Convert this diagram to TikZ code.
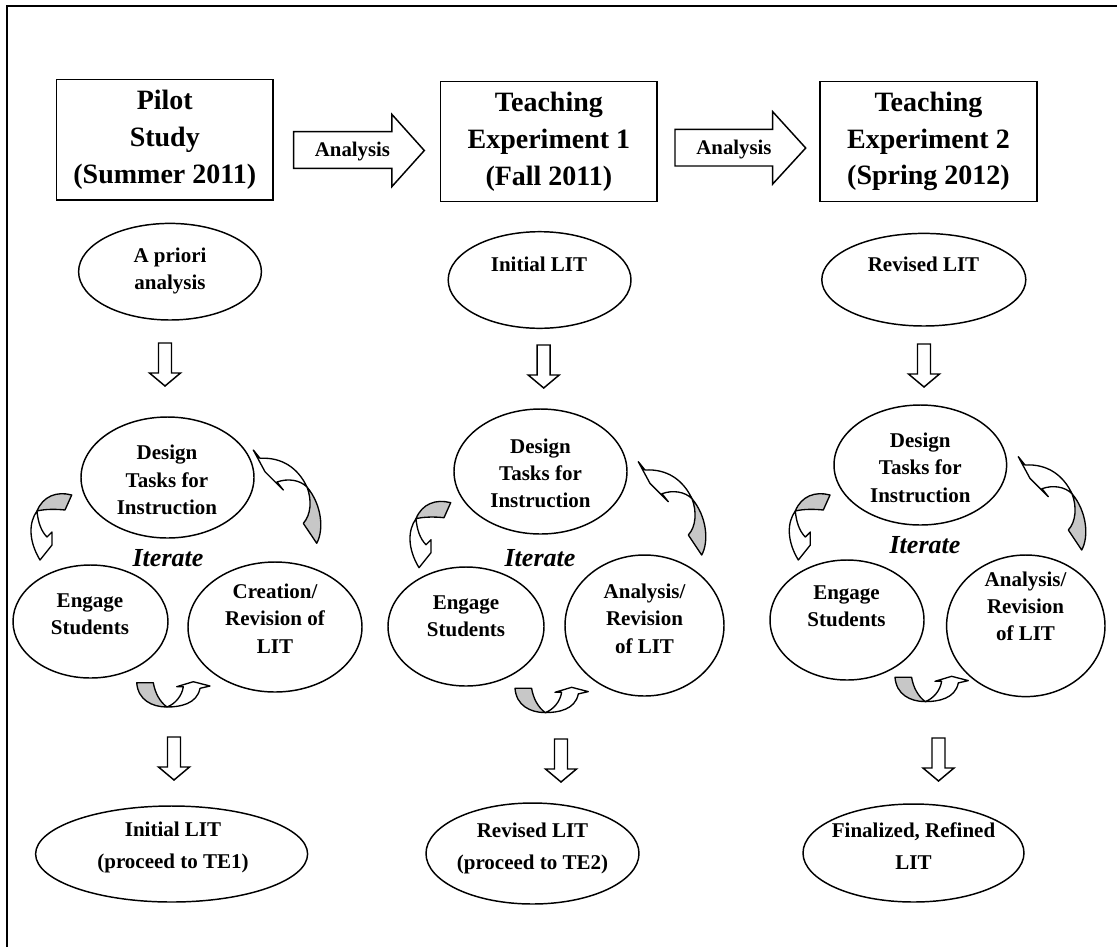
\documentclass[tikz,border=0pt]{standalone}
\usepackage{fontspec}
\setmainfont{Liberation Serif}
\usetikzlibrary{shapes.geometric}
\tikzset{
  lw/.style={line width=1.1pt},
  blockarrow/.style={draw,lw,fill=white,line join=miter},
  ribbon/.style={draw,line width=1pt,line join=round},
  grayface/.style={ribbon,fill=black!22},
  whiteface/.style={ribbon,fill=white},
  downblock/.pic={\draw[blockarrow] (-6.5,0) -- (6.5,0) -- (6.5,30) -- (15.5,30) -- (0,43) -- (-15.5,30) -- (-6.5,30) -- cycle;},
  leftcurl/.pic={
    \draw[grayface] (0,0) .. controls (-14.7,-4) and (-28.7,1) .. (-34.7,16) .. controls (-26.7,14) and (-15.7,14) .. (-6.7,15) -- cycle;
    \draw[whiteface] (-34.7,16) .. controls (-42.7,27) and (-43.7,45) .. (-31.7,65) -- (-19.7,50) -- (-19.7,37) -- (-24.7,42) .. controls (-30.7,36) and (-33.7,27) .. (-34.7,16) -- cycle;},
  rightcurl/.pic={
    \draw[grayface] (50,73.3) -- (63.4,93.3) .. controls (70.7,80) and (68.7,55) .. (53.7,37) .. controls (58.7,50) and (57.7,65) .. (50,73.3) -- cycle;
    \draw[whiteface] (53.7,37) .. controls (44.7,18) and (28.7,7) .. (6.7,8.3) -- (0,0) -- (11.7,21.7) -- (30,40) -- (23.7,32) .. controls (34.7,28) and (46.7,30) .. (53.7,37) -- cycle;},
  bottomcurl/.pic={
    \draw[grayface] (0,0) -- (16.6,0) .. controls (18.3,10.3) and (23.3,19.3) .. (30.3,24.3) .. controls (15.3,24.3) and (1.3,17.3) .. (0,0) -- cycle;
    \draw[whiteface] (30.3,24.3) .. controls (43.3,24.3) and (60.3,21.3) .. (63.3,5.6) -- (73.3,3.3) -- (56.6,-1) -- (40,4) -- (46.6,4) .. controls (45.3,13.3) and (38.3,21.3) .. (30.3,24.3) -- cycle;}
}
\begin{document}
\begin{tikzpicture}[x=0.75pt,y=-0.75pt,
  stagebox/.style={draw,lw,rectangle,inner sep=0pt,align=center,font=\fontsize{21}{27.5}\selectfont\bfseries},
  bsz/.style 2 args={minimum width=#1*0.75pt,minimum height=#2*0.75pt},
  oval/.style={draw,lw,ellipse,inner sep=0pt},
  osz/.style 2 args={minimum width=#1*1.5pt,minimum height=#2*1.5pt},
  otext/.style={inner sep=0pt,align=center,font=\fontsize{15.75}{20.4}\selectfont\bfseries},
  otextb/.style={inner sep=0pt,align=center,font=\fontsize{15.75}{24}\selectfont\bfseries},
  ittext/.style={inner sep=0pt,anchor=base,font=\fontsize{19.5}{23}\selectfont\bfseries\itshape},
  antext/.style={inner sep=0pt,anchor=base,font=\fontsize{15.6}{18}\selectfont\bfseries}]
\useasboundingbox (0,0) rectangle (1117,947);
\fill[white] (0,0) rectangle (1117,947);
% outer frame (continues past the right and lower edges)
\draw[lw] (7,947) -- (7,6) -- (1117,6);

% stage boxes
\node[stagebox,bsz={216.8}{120.7}] (pilot) at (164.8,139.7) {Pilot\\Study\\(Summer 2011)};
\node[stagebox,bsz={216.3}{120}] (te1) at (548.9,141.7) {Teaching\\Experiment 1\\(Fall 2011)};
\node[stagebox,bsz={217}{120}] (te2) at (928.5,141.7) {Teaching\\Experiment 2\\(Spring 2012)};

% analysis block arrows
\draw[blockarrow] (293.6,131.7) -- (391.8,131.7) -- (391.8,114.3) -- (424.3,150.5) -- (391.8,186.7) -- (391.8,168.3) -- (293.6,168.3) -- cycle;
\node[antext] (an1) at (352.5,156.7) {Analysis};
\draw[blockarrow] (675,129.3) -- (772.7,129.3) -- (772.7,111.7) -- (805.7,148) -- (772.7,184) -- (772.7,166) -- (675,166) -- cycle;
\node[antext] (an2) at (734,154.3) {Analysis};

% row 2 ellipses
\node[oval,osz={91.4}{48.3}] (apriori) at (170,271.7) {};
\node[otext] (t-apriori) at (170,271) {A priori\\analysis};
\node[oval,osz={91.4}{48.3}] (init1) at (539.6,280) {};
\node[otext,anchor=base] (t-init1) at (539,271.7) {Initial LIT};
\node[oval,osz={102}{46.3}] (rev1) at (923.8,279.7) {};
\node[otext,anchor=base] (t-rev1) at (923.5,271.7) {Revised LIT};

% down arrows
\pic at (165,343) {downblock};
\pic at (543.7,345) {downblock};
\pic at (924,344) {downblock};
\pic at (174,737) {downblock};
\pic at (561,739) {downblock};
\pic at (938.5,738) {downblock};

% cycle 1
\node[oval,osz={86.5}{60.5}] (des1) at (167.5,477.5) {};
\node[otext] (t-des1) at (167,480) {Design\\Tasks for\\Instruction};
\node[oval,osz={77.5}{56.5}] (eng1) at (90.5,621.5) {};
\node[otext] (t-eng1) at (90,614.5) {Engage\\Students};
\node[oval,osz={87}{65}] (cre1) at (275,627) {};
\node[otext] (t-cre1) at (275,618.7) {Creation/\\Revision of\\LIT};
\node[ittext] (it1) at (168,566) {Iterate};
\pic at (71.7,495) {leftcurl};
\pic at (253.3,450) {rightcurl};
\pic at (136.7,682.7) {bottomcurl};

% cycle 2
\node[oval,osz={86.5}{62.5}] (des2) at (540.5,471.5) {};
\node[otext] (t-des2) at (540.5,473.3) {Design\\Tasks for\\Instruction};
\node[oval,osz={78}{59.5}] (eng2) at (466,626.5) {};
\node[otext] (t-eng2) at (466,616.5) {Engage\\Students};
\node[oval,osz={79.5}{70.5}] (ana2) at (644.5,625.5) {};
\node[otext] (t-ana2) at (644.5,618.7) {Analysis/\\Revision\\of LIT};
\node[ittext] (it2) at (540,566) {Iterate};
\pic at (450.7,502.7) {leftcurl};
\pic at (638.3,461.7) {rightcurl};
\pic at (515,688.3) {bottomcurl};

% cycle 3
\node[oval,osz={86.3}{60}] (des3) at (920.3,465) {};
\node[otext] (t-des3) at (920.3,467.8) {Design\\Tasks for\\Instruction};
\node[oval,osz={77}{60}] (eng3) at (847,620) {};
\node[otext] (t-eng3) at (846.5,606.4) {Engage\\Students};
\node[oval,osz={79.2}{70.8}] (ana3) at (1025.8,625.8) {};
\node[otext] (t-ana3) at (1025.5,606.5) {Analysis/\\Revision\\of LIT};
\node[ittext] (it3) at (925,553.3) {Iterate};
\pic at (830,495) {leftcurl};
\pic at (1018.3,456.7) {rightcurl};
\pic at (895,677.3) {bottomcurl};

% final ellipses
\node[oval,osz={136}{48}] (fin1) at (171.6,854) {};
\node[otextb] (t-fin1) at (173,847.8) {Initial LIT\\(proceed to TE1)};
\node[oval,osz={106.5}{50.5}] (fin2) at (532.5,853.5) {};
\node[otextb] (t-fin2) at (532.5,848) {Revised LIT\\(proceed to TE2)};
\node[oval,osz={110.5}{49}] (fin3) at (913.5,853) {};
\node[otextb] (t-fin3) at (913.5,845.7) {Finalized, Refined\\LIT};
\end{tikzpicture}
\end{document}
